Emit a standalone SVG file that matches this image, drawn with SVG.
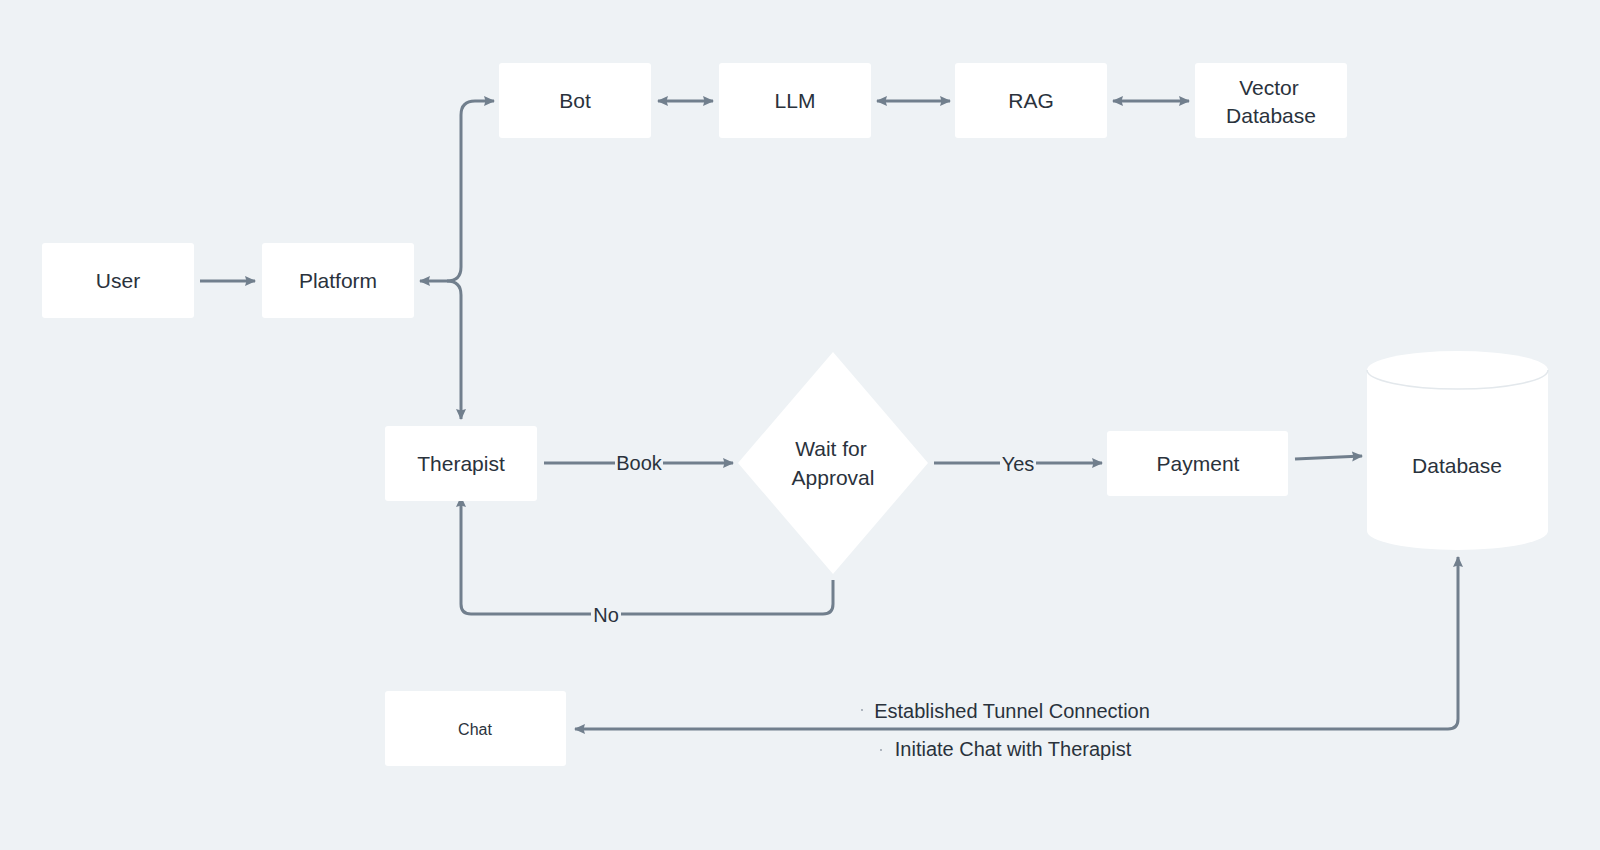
<svg xmlns="http://www.w3.org/2000/svg" width="1600" height="850" viewBox="0 0 1600 850">
  <defs>
    <style>
      .node { fill: #ffffff; }
      .lbl { font-family: "Liberation Sans", Arial, sans-serif; font-size: 21px; fill: #2a323c; text-anchor: middle; }
      .elbl { font-family: "Liberation Sans", Arial, sans-serif; font-size: 20px; fill: #2a323c; text-anchor: middle; }
      .small { font-size: 16px; }
      .edge { fill: none; stroke: #717f8d; stroke-width: 3; stroke-linecap: butt; stroke-linejoin: round; }
      .one { marker-end: url(#ah); }
      .two { marker-start: url(#ah); marker-end: url(#ah); }
      .lblbg { fill: #eef2f5; }
    </style>
    <marker id="ah" markerUnits="userSpaceOnUse" markerWidth="12" markerHeight="11" refX="10" refY="5.5" orient="auto-start-reverse" viewBox="0 0 12 11">
      <path d="M0,0.5 L11,5.5 L0,10.5 L1.5,5.5 Z" fill="#717f8d"/>
    </marker>
  </defs>

  <rect x="0" y="0" width="1600" height="850" fill="#eef2f5"/>

  <g id="connectors">
    <path id="e-user-platform" class="edge one" d="M200 281 H255"/>
    <path id="e-platform-bot" class="edge two" d="M494 101 H475 Q461 101 461 115 V267 Q461 281 447 281 H420"/>
    <path id="e-platform-therapist" class="edge one" d="M447 281 Q461 281 461 295 V419"/>
    <path id="e-bot-llm" class="edge two" d="M658 101 H713"/>
    <path id="e-llm-rag" class="edge two" d="M877 101 H950"/>
    <path id="e-rag-vdb" class="edge two" d="M1113 101 H1189"/>
    <path id="e-therapist-approval" class="edge one" d="M544 463 H733"/>
    <path id="e-approval-payment" class="edge one" d="M934 463 H1102"/>
    <path id="e-payment-db" class="edge one" d="M1295 459 L1362 456"/>
    <path id="e-approval-therapist" class="edge one" d="M833 580 V604 Q833 614 823 614 H471 Q461 614 461 604 V497"/>
    <path id="e-db-chat" class="edge two" d="M1458 557 V719 Q1458 729 1448 729 H575"/>
    <g id="edge-labels">
      <rect class="lblbg" x="615" y="450" width="48" height="26"/>
      <text class="elbl" x="639" y="470">Book</text>
      <rect class="lblbg" x="1000" y="450" width="36" height="26"/>
      <text class="elbl" x="1018" y="471">Yes</text>
      <rect class="lblbg" x="591" y="602" width="30" height="26"/>
      <text class="elbl" x="606" y="622">No</text>
      <circle cx="862" cy="710" r="0.9" fill="#8f99a4"/>
      <text class="elbl" x="1012" y="718">Established Tunnel Connection</text>
      <circle cx="881" cy="750" r="0.9" fill="#8f99a4"/>
      <text class="elbl" x="1013" y="756">Initiate Chat with Therapist</text>
    </g>
  </g>

  <g id="node-user">
    <rect class="node" x="42" y="243" width="152" height="75" rx="3"/>
    <text class="lbl" x="118" y="288">User</text>
  </g>
  <g id="node-platform">
    <rect class="node" x="262" y="243" width="152" height="75" rx="3"/>
    <text class="lbl" x="338" y="288">Platform</text>
  </g>
  <g id="node-bot">
    <rect class="node" x="499" y="63" width="152" height="75" rx="3"/>
    <text class="lbl" x="575" y="108">Bot</text>
  </g>
  <g id="node-llm">
    <rect class="node" x="719" y="63" width="152" height="75" rx="3"/>
    <text class="lbl" x="795" y="108">LLM</text>
  </g>
  <g id="node-rag">
    <rect class="node" x="955" y="63" width="152" height="75" rx="3"/>
    <text class="lbl" x="1031" y="108">RAG</text>
  </g>
  <g id="node-vector-db">
    <rect class="node" x="1195" y="63" width="152" height="75" rx="3"/>
    <text class="lbl" x="1269" y="95">Vector</text>
    <text class="lbl" x="1271" y="123">Database</text>
  </g>
  <g id="node-therapist">
    <rect class="node" x="385" y="426" width="152" height="75" rx="3"/>
    <text class="lbl" x="461" y="471">Therapist</text>
  </g>
  <g id="node-approval">
    <polygon class="node" points="833,352 928,463 833,574 738,463"/>
    <text class="lbl" x="831" y="456">Wait for</text>
    <text class="lbl" x="833" y="485">Approval</text>
  </g>
  <g id="node-payment">
    <rect class="node" x="1107" y="431" width="181" height="65" rx="3"/>
    <text class="lbl" x="1198" y="471">Payment</text>
  </g>
  <g id="node-database">
    <path class="node" d="M1367 370 A90.5 19 0 0 1 1548 370 V531 A90.5 19 0 0 1 1367 531 Z"/>
    <path d="M1367 370 A90.5 19 0 0 0 1548 370" fill="none" stroke="#e3e8ec" stroke-width="1.5"/>
    <text class="lbl" x="1457" y="473">Database</text>
  </g>
  <g id="node-chat">
    <rect class="node" x="385" y="691" width="181" height="75" rx="3"/>
    <text class="lbl small" x="475" y="735">Chat</text>
  </g>
</svg>
